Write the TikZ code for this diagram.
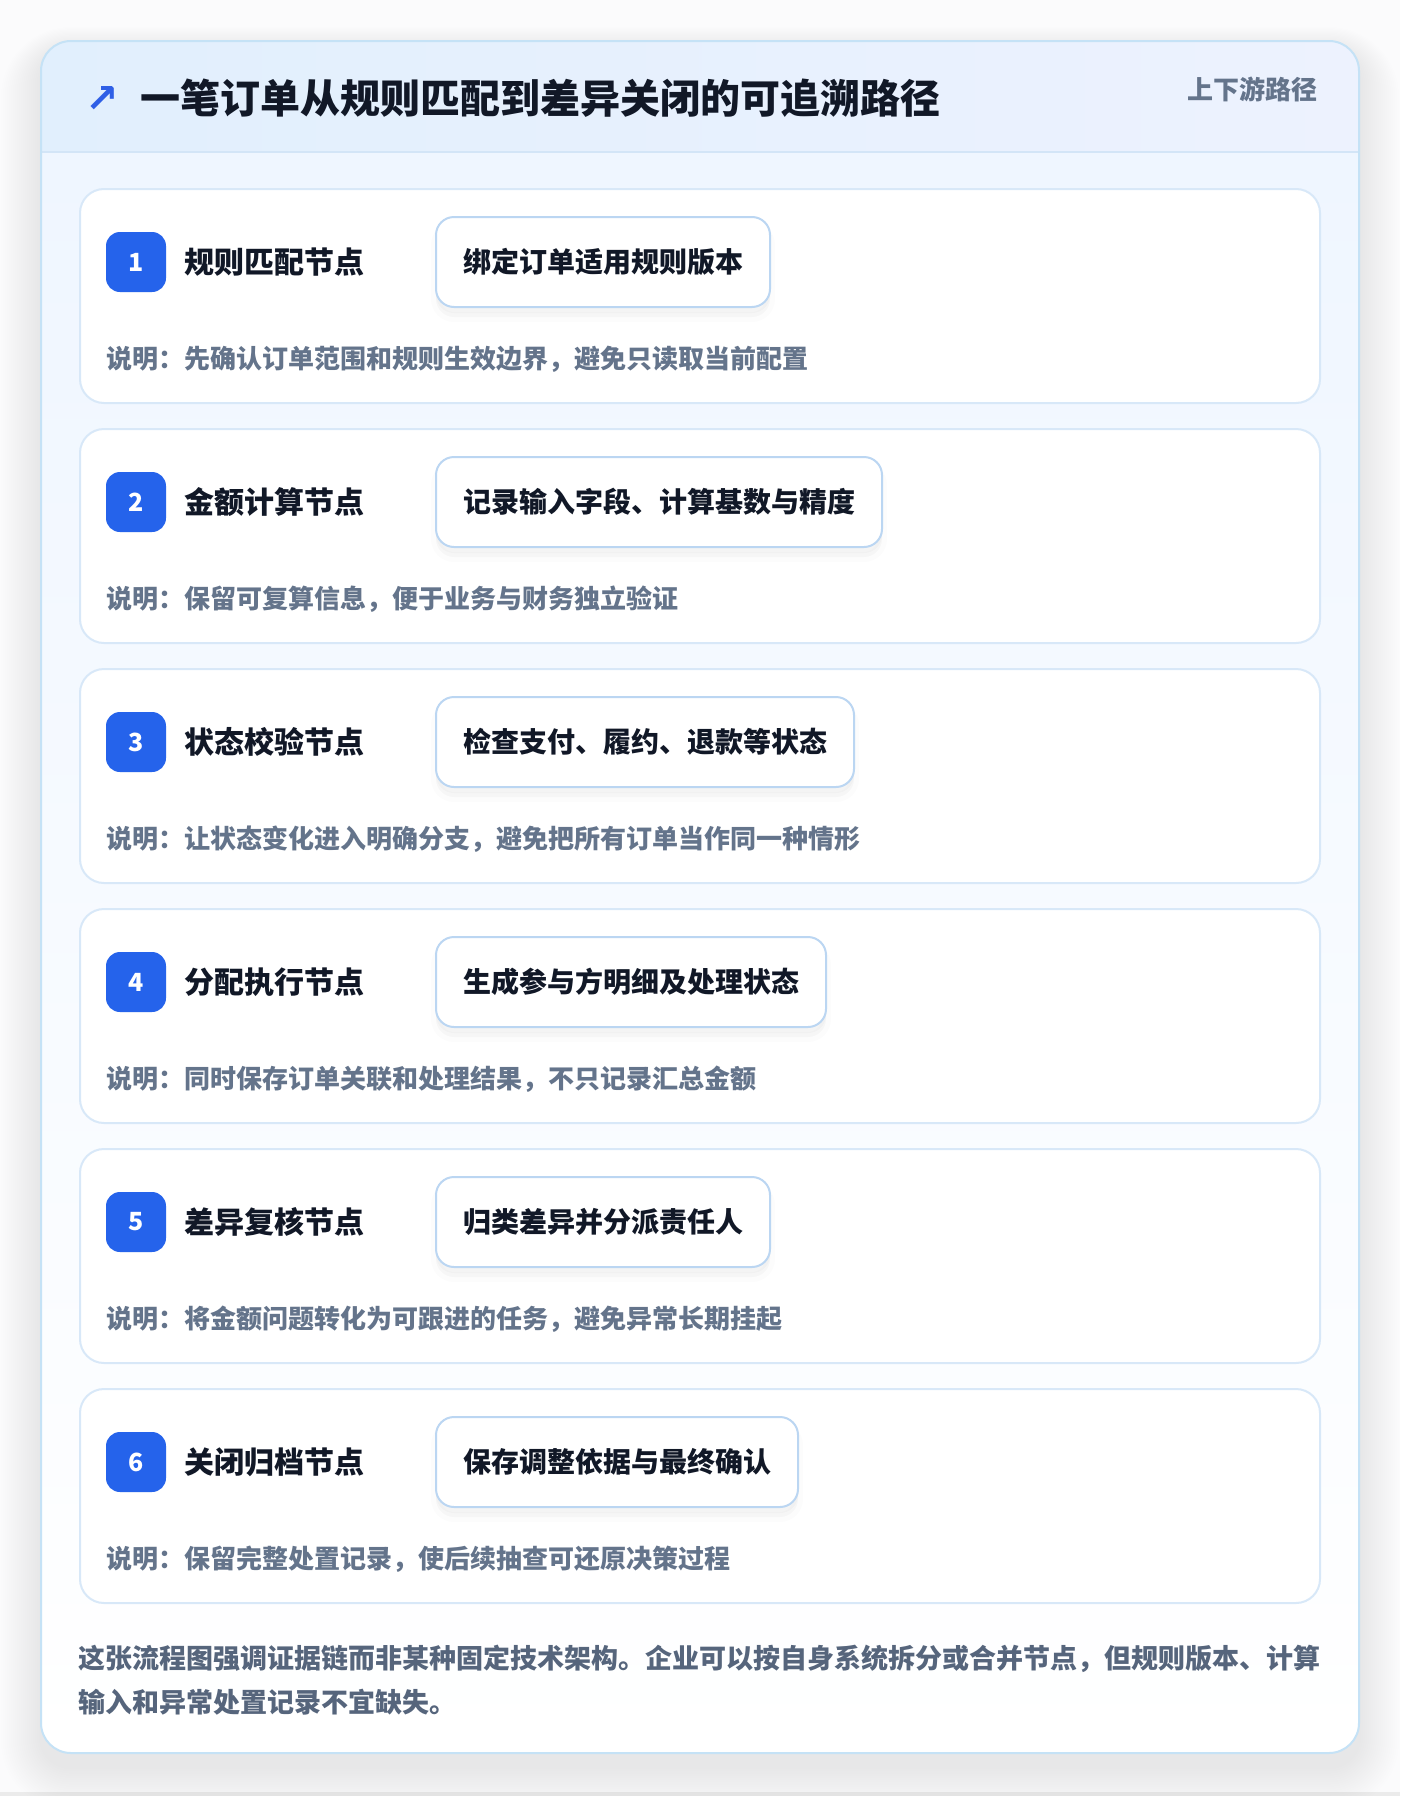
\documentclass[tikz,border=0pt]{standalone}
\usepackage{fontspec}
\setmainfont{Noto Sans CJK SC}
\newfontfamily\symfont{DejaVu Sans}
\definecolor{pagebg}{HTML}{FBFBFC}
\definecolor{cardborder}{HTML}{C5E2F6}
\definecolor{hdrL}{HTML}{E1EFFD}
\definecolor{hdrR}{HTML}{EDF2FE}
\definecolor{hdrline}{HTML}{D3E5F7}
\definecolor{bodyT}{HTML}{EFF6FF}
\definecolor{stepborder}{HTML}{D8E8F8}
\definecolor{pillborder}{HTML}{BBD6F2}
\definecolor{badgeblue}{HTML}{2563EB}
\definecolor{iconblue}{HTML}{2F5FE6}
\definecolor{ink}{HTML}{111827}
\definecolor{muted}{HTML}{64748B}
\definecolor{notegray}{HTML}{56657C}
\begin{document}
\begin{tikzpicture}[x=1pt,y=-1pt,
  stepcard/.style={draw=stepborder, line width=2pt, fill=white, rounded corners=24pt,
    minimum width=1240pt, minimum height=214pt, inner sep=0pt},
  badge/.style={fill=badgeblue, rounded corners=14pt, minimum width=60pt, minimum height=60pt,
    inner sep=0pt, text=white, font=\fontsize{25}{28}\selectfont\bfseries},
  steptitle/.style={anchor=base west, inner sep=0pt, text=ink, font=\fontsize{30}{36}\selectfont\bfseries},
  pill/.style={draw=pillborder, line width=2pt, fill=white, rounded corners=18pt,
    minimum height=90pt, inner xsep=27pt, inner ysep=0pt, anchor=west, text=ink,
    font=\fontsize{28}{34}\selectfont\bfseries,
    preaction={fill=black, opacity=0.025, transform canvas={yshift=-10pt}},
    preaction={fill=black, opacity=0.02, transform canvas={yshift=-6pt}},
    preaction={draw=black, line width=10pt, opacity=0.012, transform canvas={yshift=-10pt}}},
  desc/.style={anchor=base west, inner sep=0pt, text=muted, font=\fontsize{26}{32}\selectfont\bfseries},
  notetext/.style={anchor=base west, inner sep=0pt, text=notegray, font=\fontsize{27}{44}\selectfont\bfseries},
]
\useasboundingbox (0,0) rectangle (1400,1796);
\fill[pagebg] (0,0) rectangle (1400,1796);
\fill[black!8] (0,1792) rectangle (1400,1796);
% soft shadow of the main card
\foreach \i in {1,...,20}{
  \fill[black, opacity=0.0045, rounded corners={30+2*\i}]
    ({41-2*\i},{51-1.2*\i}) rectangle ({1359+2*\i},{1767+2.2*\i});
}
% main card
\begin{scope}
  \clip[rounded corners=30pt] (41,41) rectangle (1359,1753);
  \shade[left color=hdrL, right color=hdrR] (41,41) rectangle (1359,152);
  \shade[top color=bodyT, bottom color=white] (41,152) rectangle (1359,1753);
  \draw[hdrline, line width=2pt] (41,152) -- (1359,152);
\end{scope}
\draw[cardborder, line width=2pt, rounded corners=30pt] (41,41) rectangle (1359,1753);

% header
\node[anchor=center, inner sep=0pt, text=iconblue, font=\symfont\fontsize{40}{44}\selectfont\bfseries] (icon) at (102,100) {↗};
\node[anchor=base west, inner sep=0pt, text=ink, font=\fontsize{40}{48}\selectfont\bfseries] (hdrtitle) at (140,113) {一笔订单从规则匹配到差异关闭的可追溯路径};
\node[anchor=base east, inner sep=0pt, text=muted, font=\fontsize{26}{32}\selectfont\bfseries] (hdrtag) at (1318,99) {上下游路径};

% steps
\foreach \k/\ttl/\pl/\ds in {
  1/规则匹配节点/绑定订单适用规则版本/说明：先确认订单范围和规则生效边界，避免只读取当前配置,
  2/金额计算节点/记录输入字段、计算基数与精度/说明：保留可复算信息，便于业务与财务独立验证,
  3/状态校验节点/检查支付、履约、退款等状态/说明：让状态变化进入明确分支，避免把所有订单当作同一种情形,
  4/分配执行节点/生成参与方明细及处理状态/说明：同时保存订单关联和处理结果，不只记录汇总金额,
  5/差异复核节点/归类差异并分派责任人/说明：将金额问题转化为可跟进的任务，避免异常长期挂起,
  6/关闭归档节点/保存调整依据与最终确认/说明：保留完整处置记录，使后续抽查可还原决策过程}{
  \pgfmathsetmacro\tp{189+240*(\k-1)}
  \node[stepcard] (card\k) at (700,{\tp+107}) {};
  \node[badge] (badge\k) at (136,{\tp+73}) {\k};
  \node[steptitle] (title\k) at (184,{\tp+84}) {\ttl};
  \node[pill] (pill\k) at (435,{\tp+73}) {\pl};
  \node[desc] (desc\k) at (106,{\tp+179}) {\ds};
}

% footnote
\node[notetext] (note1) at (78,1668) {这张流程图强调证据链而非某种固定技术架构。企业可以按自身系统拆分或合并节点，但规则版本、计算};
\node[notetext] (note2) at (78,1712) {输入和异常处置记录不宜缺失。};
\end{tikzpicture}
\end{document}
